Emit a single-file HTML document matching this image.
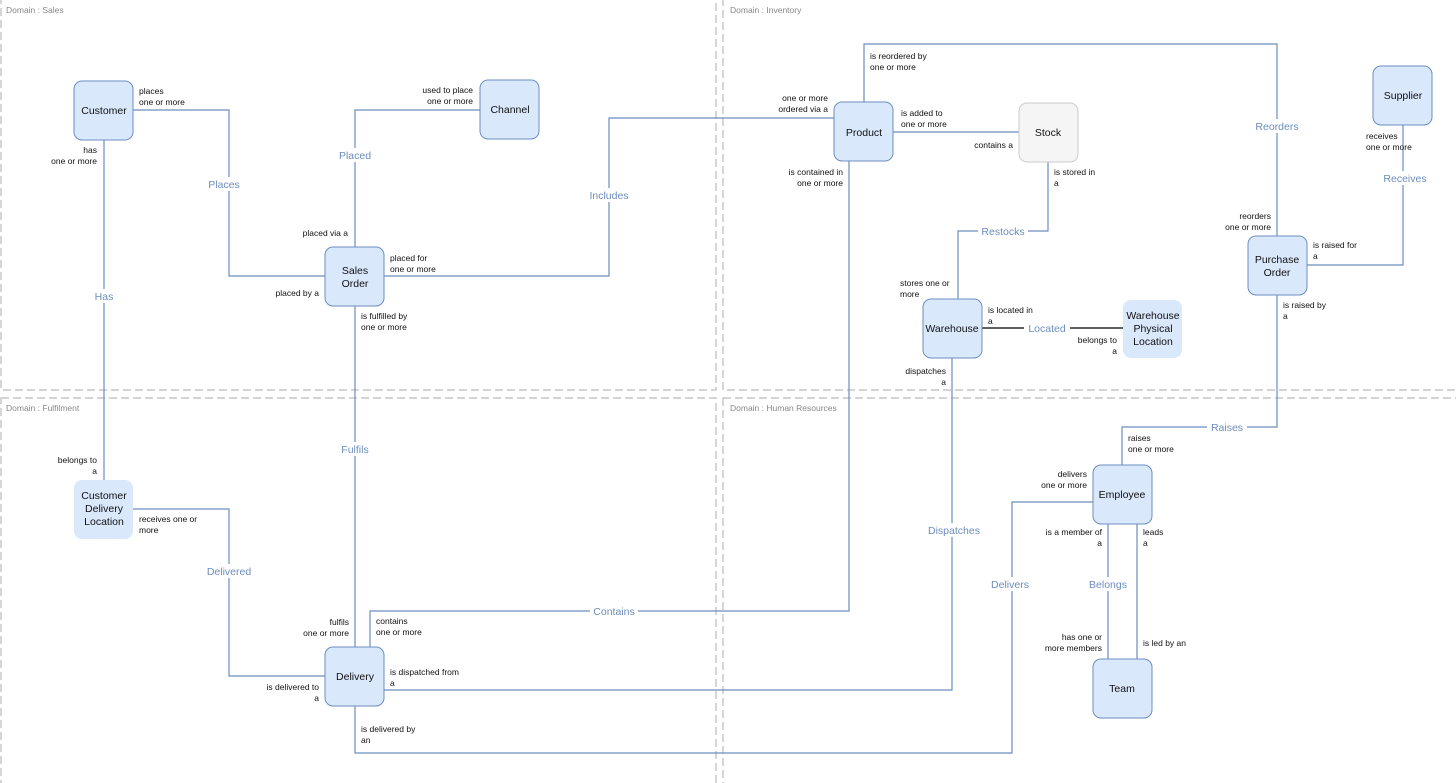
<!DOCTYPE html>
<html><head><meta charset="utf-8"><style>
html,body{margin:0;padding:0;background:#fff}
svg{display:block;font-family:"Liberation Sans",sans-serif}
.n{fill:#dae8fc;stroke:#6c8ebf;stroke-width:1}
.nt{font-size:10.5px;fill:#111;text-anchor:middle}
.e{fill:none;stroke:#6c8ebf;stroke-width:1.2}
.el{font-size:10.5px;fill:#6c8ebf;text-anchor:middle}
.s{font-size:8.5px;fill:#111}
.d{fill:none;stroke:#bbb;stroke-width:1.2;stroke-dasharray:8 4}
.dl{font-size:8.5px;fill:#888}
.bg{fill:#fff}
</style></head><body>
<svg width="1456" height="783" viewBox="0 0 1456 783">
<rect class="d" x="1" y="-2" width="715" height="392"/>
<rect class="d" x="723" y="-2" width="740" height="392"/>
<rect class="d" x="1" y="398" width="715" height="392"/>
<rect class="d" x="723" y="398" width="740" height="392"/>
<text class="dl" x="6" y="13">Domain : Sales</text>
<text class="dl" x="730" y="13">Domain : Inventory</text>
<text class="dl" x="6" y="411">Domain : Fulfilment</text>
<text class="dl" x="730" y="411">Domain : Human Resources</text>

<!-- edges -->
<polyline class="e" points="133,110 229,110 229,276 325,276"/>
<polyline class="e" points="104,140 104,480"/>
<polyline class="e" points="480,110 355,110 355,247"/>
<polyline class="e" points="384,276 609,276 609,118 834,118"/>
<polyline class="e" points="864,102 864,44 1277,44 1277,236"/>
<polyline class="e" points="893,132 1019,132"/>
<polyline class="e" points="1048,162 1048,231 958,231 958,299"/>
<polyline points="982,328 1123,328" fill="none" stroke="#000" stroke-width="1.2"/>
<polyline class="e" points="1403,125 1403,265 1307,265"/>
<polyline class="e" points="355,306 355,647"/>
<polyline class="e" points="133,509 229,509 229,676 325,676"/>
<polyline class="e" points="849,161 849,611 370,611 370,647"/>
<polyline class="e" points="952,358 952,690 384,690"/>
<polyline class="e" points="1277,295 1277,427 1122,427 1122,465"/>
<polyline class="e" points="1093,502 1012,502 1012,753 355,753 355,706"/>
<polyline class="e" points="1108,524 1108,659"/>
<polyline class="e" points="1137,524 1137,659"/>

<!-- edge labels -->
<g>
<rect class="bg" x="205" y="177" width="40" height="14"/><text class="el" x="224" y="188">Places</text>
<rect class="bg" x="90" y="289" width="28" height="14"/><text class="el" x="104" y="300">Has</text>
<rect class="bg" x="335" y="148" width="40" height="14"/><text class="el" x="355" y="159">Placed</text>
<rect class="bg" x="586" y="188" width="46" height="14"/><text class="el" x="609" y="199">Includes</text>
<rect class="bg" x="1252" y="119" width="50" height="14"/><text class="el" x="1277" y="130">Reorders</text>
<rect class="bg" x="978" y="224" width="50" height="14"/><text class="el" x="1003" y="235">Restocks</text>
<rect class="bg" x="1024" y="321" width="46" height="14"/><text class="el" x="1047" y="332">Located</text>
<rect class="bg" x="1380" y="171" width="50" height="14"/><text class="el" x="1405" y="182">Receives</text>
<rect class="bg" x="338" y="442" width="34" height="14"/><text class="el" x="355" y="453">Fulfils</text>
<rect class="bg" x="204" y="564" width="50" height="14"/><text class="el" x="229" y="575">Delivered</text>
<rect class="bg" x="590" y="604" width="48" height="14"/><text class="el" x="614" y="615">Contains</text>
<rect class="bg" x="924" y="523" width="60" height="14"/><text class="el" x="954" y="534">Dispatches</text>
<rect class="bg" x="1207" y="420" width="40" height="14"/><text class="el" x="1227" y="431">Raises</text>
<rect class="bg" x="988" y="577" width="46" height="14"/><text class="el" x="1010" y="588">Delivers</text>
<rect class="bg" x="1086" y="577" width="44" height="14"/><text class="el" x="1108" y="588">Belongs</text>
</g>

<!-- small labels -->
<g class="s">
<text x="139" y="94">places</text><text x="139" y="105">one or more</text>
<text x="97" y="153" text-anchor="end">has</text><text x="97" y="164" text-anchor="end">one or more</text>
<text x="473" y="93" text-anchor="end">used to place</text><text x="473" y="104" text-anchor="end">one or more</text>
<text x="348" y="236" text-anchor="end">placed via a</text>
<text x="390" y="261">placed for</text><text x="390" y="272">one or more</text>
<text x="319" y="296" text-anchor="end">placed by a</text>
<text x="361" y="319">is fulfilled by</text><text x="361" y="330">one or more</text>
<text x="828" y="101" text-anchor="end">one or more</text><text x="828" y="112" text-anchor="end">ordered via a</text>
<text x="870" y="59">is reordered by</text><text x="870" y="70">one or more</text>
<text x="901" y="116">is added to</text><text x="901" y="127">one or more</text>
<text x="1013" y="148" text-anchor="end">contains a</text>
<text x="1054" y="175">is stored in</text><text x="1054" y="186">a</text>
<text x="843" y="175" text-anchor="end">is contained in</text><text x="843" y="186" text-anchor="end">one or more</text>
<text x="900" y="286">stores one or</text><text x="900" y="297">more</text>
<text x="988" y="313">is located in</text><text x="988" y="324">a</text>
<text x="1117" y="343" text-anchor="end">belongs to</text><text x="1117" y="354" text-anchor="end">a</text>
<text x="946" y="374" text-anchor="end">dispatches</text><text x="946" y="385" text-anchor="end">a</text>
<text x="1366" y="139">receives</text><text x="1366" y="150">one or more</text>
<text x="1271" y="219" text-anchor="end">reorders</text><text x="1271" y="230" text-anchor="end">one or more</text>
<text x="1313" y="248">is raised for</text><text x="1313" y="259">a</text>
<text x="1283" y="308">is raised by</text><text x="1283" y="319">a</text>
<text x="97" y="463" text-anchor="end">belongs to</text><text x="97" y="474" text-anchor="end">a</text>
<text x="139" y="522">receives one or</text><text x="139" y="533">more</text>
<text x="349" y="625" text-anchor="end">fulfils</text><text x="349" y="636" text-anchor="end">one or more</text>
<text x="376" y="624">contains</text><text x="376" y="635">one or more</text>
<text x="390" y="675">is dispatched from</text><text x="390" y="686">a</text>
<text x="319" y="690" text-anchor="end">is delivered to</text><text x="319" y="701" text-anchor="end">a</text>
<text x="361" y="732">is delivered by</text><text x="361" y="743">an</text>
<text x="1128" y="441">raises</text><text x="1128" y="452">one or more</text>
<text x="1087" y="477" text-anchor="end">delivers</text><text x="1087" y="488" text-anchor="end">one or more</text>
<text x="1102" y="535" text-anchor="end">is a member of</text><text x="1102" y="546" text-anchor="end">a</text>
<text x="1143" y="535">leads</text><text x="1143" y="546">a</text>
<text x="1102" y="640" text-anchor="end">has one or</text><text x="1102" y="651" text-anchor="end">more members</text>
<text x="1143" y="646">is led by an</text>
</g>

<!-- nodes -->
<rect class="n" x="74" y="81" width="59" height="59" rx="8"/><text class="nt" x="104" y="114">Customer</text>
<rect class="n" x="480" y="80" width="59" height="59" rx="8"/><text class="nt" x="510" y="113">Channel</text>
<rect class="n" x="325" y="247" width="59" height="59" rx="8"/><text class="nt" x="355" y="274">Sales</text><text class="nt" x="355" y="287">Order</text>
<rect class="n" x="834" y="102" width="59" height="59" rx="8"/><text class="nt" x="864" y="136">Product</text>
<rect x="1019" y="103" width="59" height="59" rx="8" fill="#f5f5f5" stroke="#ccc"/><text class="nt" x="1048" y="136">Stock</text>
<rect class="n" x="1373" y="66" width="59" height="59" rx="8"/><text class="nt" x="1403" y="99">Supplier</text>
<rect class="n" x="1248" y="236" width="59" height="59" rx="8"/><text class="nt" x="1277" y="263">Purchase</text><text class="nt" x="1277" y="276">Order</text>
<rect class="n" x="923" y="299" width="59" height="59" rx="8"/><text class="nt" x="952" y="332">Warehouse</text>
<rect x="1123" y="300" width="59" height="58" rx="8" fill="#dae8fc"/><text class="nt" x="1153" y="319">Warehouse</text><text class="nt" x="1153" y="332">Physical</text><text class="nt" x="1153" y="345">Location</text>
<rect x="74" y="480" width="59" height="59" rx="8" fill="#dae8fc"/><text class="nt" x="104" y="499">Customer</text><text class="nt" x="104" y="512">Delivery</text><text class="nt" x="104" y="525">Location</text>
<rect class="n" x="325" y="647" width="59" height="59" rx="8"/><text class="nt" x="355" y="680">Delivery</text>
<rect class="n" x="1093" y="465" width="59" height="59" rx="8"/><text class="nt" x="1122" y="498">Employee</text>
<rect class="n" x="1093" y="659" width="59" height="59" rx="8"/><text class="nt" x="1122" y="692">Team</text>
</svg>
</body></html>
